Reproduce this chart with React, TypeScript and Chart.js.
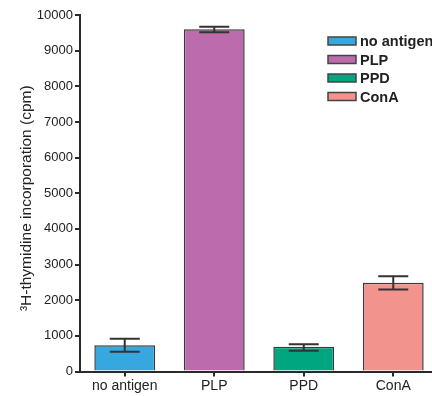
import React, { useEffect, useRef } from "react";
import { Chart, registerables } from "chart.js";

Chart.register(...registerables);

const categories = ["no antigen", "PLP", "PPD", "ConA"];
const means = [737, 9599, 692, 2490];
const errHigh = [916, 9672, 765, 2669];
const errLow = [552, 9515, 580, 2300];
const colors = ["#36a8df", "#bc6cad", "#00a67f", "#f2938d"];
const yTicks = [0, 1000, 2000, 3000, 4000, 5000, 6000, 7000, 8000, 9000, 10000];
const yTitle = "³H-thymidine incorporation (cpm)";

const FONT = "'Liberation Sans', Arial, sans-serif";
const INK = "#2a2a2a";

export default function App() {
  const ref = useRef<HTMLCanvasElement | null>(null);

  useEffect(() => {
    document.documentElement.style.overflow = "hidden";
    document.body.style.overflow = "hidden";
    const canvas = ref.current;
    if (!canvas) return;

    const errorBars = {
      id: "errorBars",
      afterDatasetsDraw(chart: any) {
        const ctx = chart.ctx;
        const meta = chart.getDatasetMeta(0);
        const y = chart.scales.y;
        ctx.save();
        ctx.strokeStyle = "#333";
        ctx.lineWidth = 2;
        meta.data.forEach((bar: any, i: number) => {
          const x = bar.x;
          const yh = y.getPixelForValue(errHigh[i]);
          const yl = y.getPixelForValue(errLow[i]);
          const half = 15;
          ctx.beginPath();
          ctx.moveTo(x, yh);
          ctx.lineTo(x, yl);
          ctx.moveTo(x - half, yh);
          ctx.lineTo(x + half, yh);
          ctx.moveTo(x - half, yl);
          ctx.lineTo(x + half, yl);
          ctx.stroke();
        });
        ctx.restore();
      },
    };

    const customLegend = {
      id: "customLegend",
      afterDraw(chart: any) {
        const ctx = chart.ctx;
        const area = chart.chartArea;
        const x0 = area.left + 248;
        const y0 = area.top + 26;
        ctx.save();
        ctx.font = `bold 14.5px ${FONT}`;
        ctx.textBaseline = "middle";
        categories.forEach((c, i) => {
          const yy = y0 + i * 18.5;
          ctx.fillStyle = colors[i];
          ctx.fillRect(x0, yy - 4, 28, 8);
          ctx.strokeStyle = "#444";
          ctx.lineWidth = 1.5;
          ctx.strokeRect(x0, yy - 4, 28, 8);
          ctx.fillStyle = "#222";
          ctx.fillText(c, x0 + 32, yy + 1);
        });
        ctx.restore();
      },
    };

    const yTitlePlugin = {
      id: "yTitlePlugin",
      afterDraw(chart: any) {
        const ctx = chart.ctx;
        const area = chart.chartArea;
        ctx.save();
        ctx.translate(area.left - 53, (area.top + area.bottom) / 2 + 5);
        ctx.rotate(-Math.PI / 2);
        ctx.font = `15.5px ${FONT}`;
        ctx.fillStyle = "#222";
        ctx.textAlign = "center";
        ctx.textBaseline = "middle";
        ctx.fillText(yTitle, 0, 0);
        ctx.restore();
      },
    };

    const chart = new Chart(canvas, {
      type: "bar",
      data: {
        labels: categories,
        datasets: [
          {
            data: means,
            backgroundColor: colors,
            borderColor: "#3a3a3a",
            borderWidth: 1.5,
            categoryPercentage: 1,
            barPercentage: 0.68,
          },
        ],
      },
      options: {
        animation: false,
        responsive: false,
        maintainAspectRatio: false,
        layout: { padding: { top: 15, right: 8, left: 0, bottom: 0 } },
        plugins: {
          legend: { display: false },
          tooltip: { enabled: false },
        },
        scales: {
          x: {
            offset: true,
            grid: {
              offset: false,
              drawOnChartArea: false,
              drawTicks: true,
              tickLength: 5,
              color: INK,
              lineWidth: 2,
            },
            border: { color: INK, width: 2 },
            ticks: {
              color: "#222",
              font: { family: FONT, size: 14 },
              padding: 1,
            },
            afterFit(scale: any) {
              scale.height = 24.5;
            },
          },
          y: {
            min: 0,
            max: 10000,
            afterBuildTicks(scale: any) {
              scale.ticks = yTicks.map((v) => ({ value: v }));
            },
            grid: {
              drawOnChartArea: false,
              drawTicks: true,
              tickLength: 5,
              color: INK,
              lineWidth: 2,
            },
            border: { color: INK, width: 2 },
            ticks: {
              color: "#222",
              font: { family: FONT, size: 13 },
              padding: 2,
              callback: (v: any) => String(v),
            },
            afterFit(scale: any) {
              scale.width = 80;
            },
          },
        },
      },
      plugins: [errorBars, customLegend, yTitlePlugin],
    });

    return () => chart.destroy();
  }, []);

  return (
    <div style={{ position: "absolute", left: 0, top: 0, width: 446, height: 396 }}>
      <canvas ref={ref} width={446} height={396} style={{ display: "block" }} />
    </div>
  );
}
